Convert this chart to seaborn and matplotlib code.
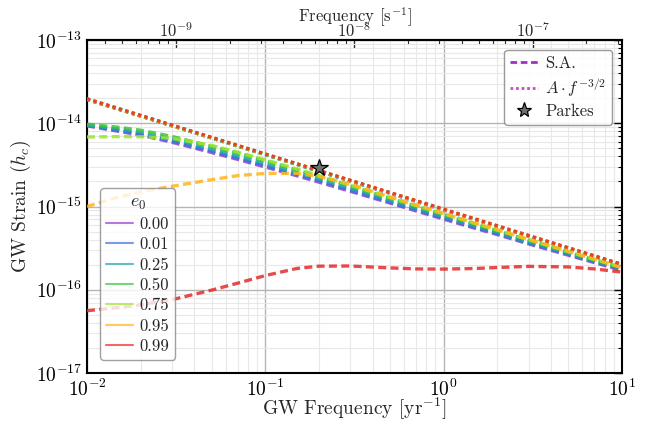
import numpy as np
import pandas as pd
import matplotlib
matplotlib.use("Agg")
import matplotlib.pyplot as plt
from matplotlib.lines import Line2D
import seaborn as sns

# ---- data -------------------------------------------------------------
ecc_labels = ["0.00", "0.01", "0.25", "0.50", "0.75", "0.95", "0.99"]
ecc_colors = ["#9b3fc8", "#3d6fe0", "#1fa5a0", "#3cc43c", "#9be62a", "#ffb61a", "#e52b2b"]

# GW frequency grid [1/yr] for the semi-analytic spectra
freq_yr = [0.01, 0.015, 0.02, 0.03, 0.05, 0.07, 0.1, 0.15, 0.2, 0.3,
           0.5, 0.7, 1.0, 1.5, 2.0, 3.0, 5.0, 7.0, 10.0]

# semi-analytic characteristic strain, one list per initial eccentricity
hc_sa_000 = [9.3e-15, 8.0e-15, 7.2e-15, 5.9e-15, 4.45e-15, 3.68e-15, 2.98e-15, 2.34e-15, 1.96e-15, 1.52e-15,
             1.1e-15, 8.85e-16, 7.05e-16, 5.47e-16, 4.6e-16, 3.55e-16, 2.6e-16, 2.12e-16, 1.71e-16]
hc_sa_001 = [9.45e-15, 8.2e-15, 7.4e-15, 6.1e-15, 4.6e-15, 3.8e-15, 3.08e-15, 2.42e-15, 2.03e-15, 1.57e-15,
             1.13e-15, 9.1e-16, 7.25e-16, 5.6e-16, 4.7e-16, 3.63e-16, 2.66e-16, 2.16e-16, 1.75e-16]
hc_sa_025 = [9.55e-15, 8.5e-15, 7.75e-15, 6.45e-15, 4.9e-15, 4.05e-15, 3.28e-15, 2.55e-15, 2.14e-15, 1.65e-15,
             1.18e-15, 9.5e-16, 7.55e-16, 5.83e-16, 4.88e-16, 3.75e-16, 2.73e-16, 2.21e-16, 1.78e-16]
hc_sa_050 = [9.75e-15, 8.95e-15, 8.25e-15, 6.95e-15, 5.28e-15, 4.4e-15, 3.55e-15, 2.75e-15, 2.3e-15, 1.77e-15,
             1.26e-15, 1.01e-15, 8.0e-16, 6.15e-16, 5.13e-16, 3.93e-16, 2.84e-16, 2.29e-16, 1.83e-16]
hc_sa_075 = [6.85e-15, 6.9e-15, 6.9e-15, 6.6e-15, 5.42e-15, 4.5e-15, 3.64e-15, 2.83e-15, 2.35e-15, 1.81e-15,
             1.28e-15, 1.03e-15, 8.17e-16, 6.27e-16, 5.22e-16, 4.0e-16, 2.87e-16, 2.32e-16, 1.85e-16]
hc_sa_095 = [1.0e-15, 1.3e-15, 1.5e-15, 1.75e-15, 2.1e-15, 2.35e-15, 2.5e-15, 2.5e-15, 2.3e-15, 1.85e-15,
             1.3e-15, 1.04e-15, 8.25e-16, 6.3e-16, 5.25e-16, 4.02e-16, 2.88e-16, 2.33e-16, 1.86e-16]
hc_sa_099 = [5.6e-17, 6.1e-17, 6.6e-17, 7.6e-17, 9.9e-17, 1.2e-16, 1.48e-16, 1.8e-16, 1.92e-16, 1.93e-16,
             1.83e-16, 1.78e-16, 1.77e-16, 1.8e-16, 1.85e-16, 1.91e-16, 1.88e-16, 1.78e-16, 1.63e-16]
hc_sa = [hc_sa_000, hc_sa_001, hc_sa_025, hc_sa_050, hc_sa_075, hc_sa_095, hc_sa_099]

# pure power-law spectra, end points of each straight line
freq_pl = [0.01, 10.0]
hc_pl = [[1.93e-14, 1.98e-16], [1.935e-14, 1.985e-16], [1.94e-14, 1.99e-16], [1.945e-14, 1.995e-16],
         [1.95e-14, 2.0e-16], [1.96e-14, 2.01e-16], [1.97e-14, 2.02e-16]]

# Parkes upper limit
parkes_f = [0.2]
parkes_hc = [2.9e-15]

SEC_PER_YR = 3.156e7

# ---- long-format table ------------------------------------------------
rows = []
for lab, hc in zip(ecc_labels, hc_sa):
    for f, h in zip(freq_yr, hc):
        rows.append({"f": f, "hc": h, "e0": lab, "kind": "S.A."})
for lab, hc in zip(ecc_labels, hc_pl):
    for f, h in zip(freq_pl, hc):
        rows.append({"f": f, "hc": h, "e0": lab, "kind": "PL"})
df = pd.DataFrame(rows)

# ---- style ------------------------------------------------------------
sns.set_theme(style="white")
plt.rcParams.update({
    "font.family": "serif",
    "font.serif": ["cmr10"],
    "mathtext.fontset": "cm",
    "axes.formatter.use_mathtext": True,
    "axes.unicode_minus": False,
    "axes.linewidth": 1.5,
    "axes.edgecolor": "black",
})

fig = plt.figure(figsize=(6.54, 4.21), dpi=100)
ax = fig.add_axes([0.133, 0.114, 0.818, 0.791])

ax.set_xscale("log")
ax.set_yscale("log")

palette = dict(zip(ecc_labels, ecc_colors))
sns.lineplot(data=df, x="f", y="hc", hue="e0", style="kind",
             hue_order=ecc_labels, style_order=["S.A.", "PL"],
             palette=palette, dashes={"S.A.": (2.4, 1.3), "PL": (1.0, 1.0)},
             estimator=None, sort=True, lw=2.4, alpha=0.85,
             legend=False, ax=ax, zorder=3)

ax.plot(parkes_f, parkes_hc, ls="none", marker="*", ms=13,
        mfc="#6f6f6f", mec="black", mew=0.9, zorder=5)

ax.set_xlim(1e-2, 1e1)
ax.set_ylim(1e-17, 1e-13)

ax.grid(which="major", color="#b5b5b5", lw=1.0)
ax.grid(which="minor", color="#e8e8e8", lw=0.8)
ax.set_axisbelow(True)

ax.tick_params(which="both", direction="in", top=False, right=True,
               labelsize=14, colors="black")
ax.tick_params(which="major", length=6, width=1.0)
ax.tick_params(which="minor", length=3, width=0.8)
ax.tick_params(axis="x", which="major", pad=4)

ax.set_xlabel(r"GW Frequency [$\mathrm{yr}^{-1}$]", fontsize=14, labelpad=-3)
ax.set_ylabel(r"GW Strain ($h_c$)", fontsize=14, labelpad=2)

secax = ax.secondary_xaxis("top", functions=(lambda f: f / SEC_PER_YR,
                                             lambda f: f * SEC_PER_YR))
secax.tick_params(which="both", direction="in", labelsize=12)
secax.tick_params(which="major", length=6, width=1.0, pad=0)
secax.tick_params(which="minor", length=3, width=0.8)
secax.set_xlabel(r"Frequency [$\mathrm{s}^{-1}$]", fontsize=12, labelpad=-1)

# legends
style_handles = [
    Line2D([], [], color="#a030c8", lw=2.0, dashes=(2.4, 1.3)),
    Line2D([], [], color="#c050c8", lw=2.0, dashes=(1.0, 1.0)),
    Line2D([], [], ls="none", marker="*", ms=11, mfc="#6f6f6f", mec="black", mew=0.9),
]
leg1 = ax.legend(style_handles, ["S.A.", r"$A \cdot f^{-3/2}$", "Parkes"],
                 loc="upper right", fontsize=12, frameon=True, fancybox=True,
                 edgecolor="#888888", framealpha=0.85, handlelength=1.7,
                 handletextpad=0.4, borderaxespad=0.6, labelspacing=0.3,
                 borderpad=0.35)
ax.add_artist(leg1)

ecc_handles = [Line2D([], [], color=c, lw=1.5, alpha=0.7) for c in ecc_colors]
leg2 = ax.legend(ecc_handles, ecc_labels, title=r"$e_0$", loc="lower left",
                 fontsize=12, title_fontsize=13, frameon=True, fancybox=True,
                 edgecolor="#888888", framealpha=0.8, handlelength=1.6,
                 handletextpad=0.4, borderaxespad=0.8, labelspacing=0.3,
                 borderpad=0.35)

fig.savefig("out.png", dpi=100)
